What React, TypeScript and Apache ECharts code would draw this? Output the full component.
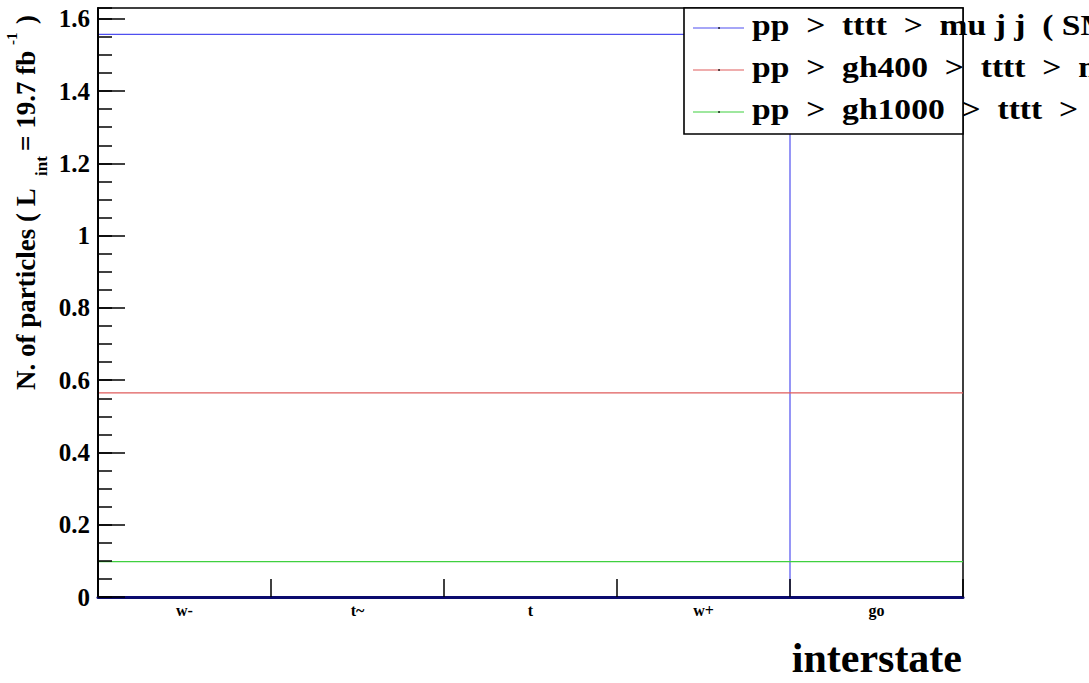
import React, { useEffect, useRef } from "react";
import * as echarts from "echarts";

// ---- data ----
const categories = ["w-", "t~", "t", "w+", "go"];
const binEdges = [0, 1, 2, 3, 4, 5];
const smValues = [1.557, 1.557, 1.557, 1.557, 0];
const gh400Values = [0.565, 0.565, 0.565, 0.565, 0.565];
const gh1000Values = [0.098, 0.098, 0.098, 0.098, 0.098];
const seriesNames = [
  "pp  >  tttt  >  mu j j  ( SM )",
  "pp  >  gh400  >  tttt  >  mu j j",
  "pp  >  gh1000  >  tttt  >  mu j j",
];
const seriesColors = ["#4f4ff0", "#e05c5c", "#3fd03f"];
const yMin = 0;
const yMax = 1.63;
const yMajor = 0.2;
const yMinor = 0.05;
const xTitle = "interstate";
const yTitleParts = ["N. of particles ( L", "int", "= 19.7 fb", "-1", ")"];

const FONT = '"Liberation Serif", "Times New Roman", Times, serif';

function stepData(values: number[]) {
  const pts: [number, number][] = values.map((v, i) => [binEdges[i], v]);
  pts.push([binEdges[values.length], values[values.length - 1]]);
  return pts;
}

export default function App() {
  const ref = useRef<HTMLDivElement>(null);
  useEffect(() => {
    if (!ref.current) return;
    const chart = echarts.init(ref.current, null, { renderer: "svg" });
    const allValues = [smValues, gh400Values, gh1000Values];

    const gLeft = 98;
    const gTop = 8;
    const gRight = 963;

    // legend
    const legX = 684;
    const legY = 8;
    const legW = gRight - legX;
    const legH = 126;
    const rowY = [28, 70, 112];
    const legend: any[] = [
      {
        type: "rect",
        z: 50,
        shape: { x: legX, y: legY, width: legW, height: legH },
        style: { fill: "#fff", stroke: "#000", lineWidth: 1.6 },
      },
    ];
    seriesNames.forEach((name, i) => {
      legend.push({
        type: "line",
        z: 51,
        shape: { x1: 693, y1: rowY[i], x2: 744, y2: rowY[i] },
        style: { stroke: seriesColors[i], lineWidth: 1.2 },
      });
      legend.push({
        type: "circle",
        z: 52,
        shape: { cx: 719, cy: rowY[i], r: 0.8 },
        style: { fill: "#000" },
      });
      legend.push({
        type: "text",
        z: 52,
        x: 752,
        y: rowY[i] - 3,
        scaleX: 1.12,
        style: {
          text: name,
          font: `bold 30px ${FONT}`,
          fill: "#000",
          align: "left",
          verticalAlign: "middle",
        },
      });
    });

    // y title pieces (rotated, reading bottom-to-top)
    const yTitleSpec = [
      { start: 390, cx: 25.5, size: 27 },
      { start: 176, cx: 41.5, size: 17 },
      { start: 151, cx: 25.5, size: 27 },
      { start: 45, cx: 12, size: 15 },
      { start: 24, cx: 25.5, size: 27 },
    ];
    const yTitle = yTitleParts.map((t, i) => ({
      type: "text",
      x: yTitleSpec[i].cx,
      y: yTitleSpec[i].start,
      rotation: Math.PI / 2,
      style: {
        text: t,
        font: `bold ${yTitleSpec[i].size}px ${FONT}`,
        fill: "#000",
        align: "left",
        verticalAlign: "middle",
      },
    }));

    const option: any = {
      animation: false,
      backgroundColor: "#fff",
      grid: {
        left: gLeft,
        right: 1089 - gRight,
        top: gTop,
        bottom: 86,
        show: true,
        borderColor: "#000",
        borderWidth: 1.5,
        backgroundColor: "transparent",
      },
      xAxis: [
        {
          type: "value",
          min: binEdges[0],
          max: binEdges[binEdges.length - 1],
          position: "top",
          axisLine: { show: false },
          axisTick: { show: false },
          axisLabel: { show: false },
          splitLine: { show: false },
        },
        {
          type: "category",
          data: categories,
          position: "bottom",
          boundaryGap: true,
          z: 5,
          axisLine: { show: true, lineStyle: { color: "#0a0a6e", width: 3 } },
          axisTick: {
            show: true,
            inside: true,
            length: 18,
            lineStyle: { color: "#000", width: 1.5 },
          },
          axisLabel: {
            fontFamily: FONT,
            fontWeight: "bold",
            fontSize: 16,
            color: "#000",
            margin: 5,
          },
          splitLine: { show: false },
        },
      ],
      yAxis: [
        {
          type: "value",
          min: yMin,
          max: yMax,
          interval: yMajor,
          position: "left",
          z: 5,
          axisLine: { show: true, lineStyle: { color: "#000", width: 2 } },
          axisTick: {
            show: true,
            inside: true,
            length: 27,
            lineStyle: { color: "#000", width: 1.5 },
          },
          axisLabel: {
            showMaxLabel: false,
            fontFamily: FONT,
            fontWeight: "bold",
            fontSize: 25,
            color: "#000",
            margin: 8,
          },
          splitLine: { show: false },
        },
        {
          type: "value",
          min: yMin,
          max: yMax,
          interval: yMinor,
          position: "left",
          z: 5,
          axisLine: { show: false },
          axisTick: {
            show: true,
            inside: true,
            length: 14,
            lineStyle: { color: "#000", width: 1.5 },
          },
          axisLabel: { show: false },
          splitLine: { show: false },
        },
      ],
      series: allValues.map((vals, i) => ({
        name: seriesNames[i],
        type: "line",
        step: "end",
        xAxisIndex: 0,
        yAxisIndex: 0,
        symbol: "none",
        silent: true,
        lineStyle: { color: seriesColors[i], width: 1.2 },
        data: stepData(vals),
      })),
      graphic: [
        ...legend,
        ...yTitle,
        {
          type: "text",
          x: 962,
          y: 658,
          style: {
            text: xTitle,
            font: `bold 42px ${FONT}`,
            fill: "#000",
            align: "right",
            verticalAlign: "middle",
          },
        },
      ],
    };
    chart.setOption(option);
    return () => chart.dispose();
  }, []);
  return (
    <div
      ref={ref}
      style={{ position: "absolute", left: 0, top: 0, width: 1089, height: 683 }}
    />
  );
}
